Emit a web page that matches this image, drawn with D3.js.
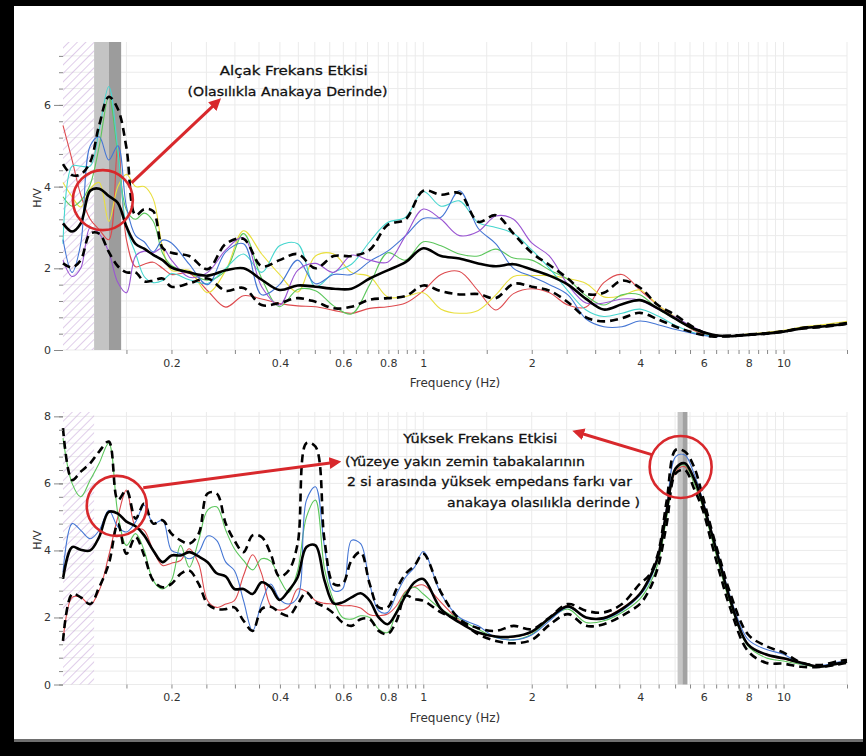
<!DOCTYPE html>
<html>
<head>
<meta charset="utf-8">
<script src="https://d3js.org/d3.v7.min.js"></script>
<style>
  body { margin: 0; background: #000; }
  svg { display: block; }
</style>
</head>
<body>
<div id="chart"></div>
<script>
// ---------- data ----------
// frequency grid of the upper panel (Hz)
var freqTop = [0.100, 0.106, 0.112, 0.119, 0.126, 0.134, 0.142, 0.150, 0.159, 0.168, 0.178, 0.189, 0.200,
  0.224, 0.252, 0.283, 0.317, 0.356, 0.399, 0.448, 0.502, 0.564, 0.632, 0.710, 0.796, 0.893, 1.00,
  1.12, 1.26, 1.42, 1.59, 1.78, 2.00, 2.24, 2.52, 2.83, 3.17, 3.56, 3.99, 4.48, 5.02, 5.64, 6.32,
  7.10, 7.96, 8.93, 10.0, 11.2, 12.6, 14.2, 15.0];

var topRed = [5.5, 4.65, 3.8, 3.2, 2.95, 2.7, 5.0, 2.7, 2.04, 2.1, 2.15, 2.0, 1.85,
  1.88, 1.45, 1.05, 1.33, 1.25, 1.14, 1.08, 1.06, 0.97, 0.9, 1.02, 1.06, 1.15, 1.45, 1.85, 1.92, 1.45, 0.98,
  1.38, 1.5, 1.4, 1.1, 1.05, 1.65, 1.85, 1.47, 1.1, 0.78, 0.48, 0.35, 0.34, 0.37, 0.4, 0.45, 0.53, 0.57, 0.62, 0.65];
var topYellow = [4.1, 3.75, 3.5, 3.95, 4.1, 3.15, 4.0, 4.3, 4.0, 4.0, 3.7, 2.5, 1.95,
  1.95, 1.4, 1.95, 2.92, 2.35, 1.85, 1.42, 2.3, 2.35, 1.9, 1.8, 1.3, 1.31, 1.4, 1.0, 0.9, 0.97, 1.35,
  1.8, 1.82, 1.82, 1.75, 1.63, 1.3, 1.33, 1.47, 1.1, 0.8, 0.5, 0.37, 0.35, 0.39, 0.43, 0.48, 0.56, 0.61, 0.67, 0.7];
var topGreen = [3.75, 3.52, 3.65, 4.05, 4.98, 6.2, 4.8, 3.43, 3.2, 3.35, 3.15, 2.37, 2.07,
  1.9, 1.71, 1.95, 2.85, 1.75, 1.06, 1.48, 1.45, 1.08, 0.88, 1.6, 2.38, 2.2, 2.65, 2.55, 2.35, 2.3, 2.47,
  2.25, 2.2, 1.96, 1.73, 1.33, 1.1, 1.35, 1.35, 1.0, 0.75, 0.5, 0.36, 0.34, 0.37, 0.4, 0.45, 0.53, 0.57, 0.62, 0.65];
var topCyan = [2.6, 4.5, 4.5, 4.5, 5.39, 6.45, 4.9, 3.0, 2.37, 1.8, 1.65, 1.7, 1.87,
  1.72, 1.63, 2.0, 2.35, 1.9, 2.55, 2.6, 1.55, 1.9, 2.1, 2.65, 3.12, 3.25, 3.88, 3.52, 3.65, 3.12, 3.0,
  2.85, 2.45, 2.0, 1.45, 0.98, 0.82, 0.9, 1.0, 0.83, 0.6, 0.42, 0.34, 0.34, 0.37, 0.4, 0.45, 0.53, 0.57, 0.62, 0.65];
var topBlue = [2.7, 1.9, 2.6, 5.0, 5.22, 4.65, 5.0, 3.51, 2.8, 2.65, 2.4, 2.69, 2.62,
  2.1, 1.6, 2.4, 2.6, 1.35, 1.6, 2.2, 1.62, 1.85, 1.85, 2.17, 2.42, 2.8, 3.22, 3.25, 3.9, 2.98, 2.6,
  2.0, 1.8, 1.6, 1.35, 0.76, 0.57, 0.57, 0.71, 0.62, 0.5, 0.4, 0.33, 0.34, 0.37, 0.4, 0.45, 0.53, 0.57, 0.62, 0.65];
var topPurple = [2.2, 1.8, 2.0, 3.0, 2.85, 2.4, 1.65, 1.4, 2.3, 2.42, 2.38, 2.5, 2.2,
  1.78, 1.9, 2.45, 2.75, 1.55, 1.1, 1.95, 2.12, 1.9, 2.32, 2.2, 2.15, 2.8, 3.45, 3.2, 2.8, 2.9, 3.28,
  3.2, 2.62, 2.3, 1.6, 1.15, 1.15, 1.25, 1.22, 1.0, 0.8, 0.55, 0.38, 0.34, 0.37, 0.4, 0.45, 0.53, 0.57, 0.62, 0.65];
var topMean = [3.1, 2.9, 3.1, 3.9, 3.95, 3.77, 3.6, 3.02, 2.6, 2.48, 2.33, 2.2, 2.02,
  1.9, 1.82, 1.95, 2.0, 1.72, 1.47, 1.58, 1.55, 1.5, 1.5, 1.75, 1.95, 2.15, 2.49, 2.3, 2.24, 2.12, 2.05,
  2.1, 1.97, 1.82, 1.6, 1.25, 0.99, 1.12, 1.22, 1.02, 0.76, 0.52, 0.38, 0.34, 0.37, 0.4, 0.45, 0.53, 0.57, 0.62, 0.65];
var topUpper = [4.55, 4.28, 4.3, 4.6, 5.5, 6.2, 5.9, 4.95, 3.3, 3.45, 3.4, 2.5, 2.38,
  2.3, 1.98, 2.6, 2.72, 2.05, 2.2, 2.35, 2.0, 2.3, 2.3, 2.45, 3.06, 3.2, 3.9, 3.8, 3.84, 3.14, 3.3,
  2.85, 2.38, 2.08, 1.75, 1.38, 1.4, 1.7, 1.53, 1.1, 0.85, 0.55, 0.36, 0.35, 0.38, 0.41, 0.46, 0.54, 0.58, 0.63, 0.66];
var topLower = [2.12, 2.02, 2.2, 2.85, 2.85, 2.4, 2.05, 1.9, 1.9, 1.68, 1.7, 1.75, 1.55,
  1.63, 1.75, 1.45, 1.52, 1.1, 1.15, 1.27, 1.18, 1.02, 1.06, 1.23, 1.27, 1.32, 1.58, 1.44, 1.36, 1.37, 1.27,
  1.62, 1.55, 1.45, 1.17, 0.8, 0.7, 0.78, 0.91, 0.75, 0.57, 0.42, 0.33, 0.34, 0.37, 0.4, 0.45, 0.52, 0.56, 0.61, 0.64];

// frequency grid of the lower panel (Hz)
var freqBottom = [0.100, 0.106, 0.112, 0.119, 0.126, 0.134, 0.142, 0.150, 0.159, 0.168, 0.178, 0.189,
  0.200, 0.212, 0.224, 0.238, 0.252, 0.267, 0.283, 0.299, 0.317, 0.336, 0.356, 0.377, 0.399,
  0.423, 0.448, 0.474, 0.502, 0.532, 0.564, 0.597, 0.632, 0.670, 0.710, 0.752, 0.796, 0.843, 0.893, 0.946, 1.00,
  1.12, 1.26, 1.42, 1.59, 1.78, 2.00, 2.24, 2.52, 2.83, 3.17, 3.56, 3.99,
  4.23, 4.48, 4.74, 5.02, 5.32, 5.64, 5.97, 6.32, 6.70, 7.10,
  7.96, 8.93, 10.0, 11.2, 12.6, 14.2, 15.0];

var botRed = [1.3, 2.6, 2.6, 2.38, 2.8, 3.85, 5.0, 5.8, 4.7, 4.6, 4.0, 3.55, 3.62, 3.7, 4.05, 3.6, 2.5, 2.3, 2.4, 2.5,
  3.25, 3.87, 3.3, 2.35, 2.22, 2.32, 2.85, 2.77, 2.5, 2.42, 2.4, 2.35, 2.35, 2.28, 2.08, 2.05, 2.1, 2.35, 2.78, 2.92, 2.97,
  2.45, 1.9, 1.55, 1.42, 1.42, 1.55, 2.0, 2.35, 2.0, 2.0, 2.28, 2.72,
  3.15, 3.75, 5.1, 6.35, 6.5, 6.1, 5.35, 4.45, 3.45, 2.5,
  1.2, 0.88, 0.76, 0.64, 0.53, 0.63, 0.68];
var botGreen = [7.35, 6.0, 5.6, 6.1, 6.6, 7.2, 5.1, 4.15, 4.5, 4.0, 3.1, 2.85, 3.1, 4.15, 3.5, 4.3, 5.2, 5.3, 4.6, 4.05,
  3.7, 3.42, 3.75, 3.68, 3.15, 2.75, 3.4, 5.0, 5.5, 3.45, 2.5, 2.0, 1.95, 2.05, 2.0, 1.65, 1.55, 2.2, 2.75, 2.9, 2.7,
  2.25, 1.95, 1.65, 1.4, 1.33, 1.5, 1.95, 2.25, 1.85, 1.9, 2.15, 2.55,
  2.95, 3.6, 5.0, 6.4, 6.55, 6.0, 5.3, 4.35, 3.35, 2.45,
  1.15, 0.8, 0.7, 0.6, 0.53, 0.62, 0.67];
var botBlue = [3.35, 4.8, 4.6, 4.35, 4.6, 5.2, 4.7, 4.55, 4.85, 5.35, 4.8, 4.9, 4.0, 3.9, 3.75, 3.95, 4.43, 4.3, 3.65, 3.4,
  2.5, 1.6, 2.45, 3.0, 2.55, 2.4, 2.6, 5.5, 5.9, 4.1, 2.8, 2.85, 4.3, 4.2, 3.0, 2.2, 2.15, 2.7, 3.2, 3.5, 3.97,
  2.7, 2.0, 1.75, 1.4, 1.33, 1.48, 1.9, 2.3, 2.0, 1.95, 2.2, 2.65,
  3.05, 3.8, 5.3, 6.8, 6.85, 6.3, 5.5, 4.55, 3.6, 2.65,
  1.35, 1.05, 0.9, 0.62, 0.56, 0.67, 0.71];
var botMean = [3.15, 4.1, 4.02, 4.0, 4.4, 5.15, 5.1, 4.86, 4.72, 4.45, 4.0, 3.65, 3.85, 3.85, 3.95, 3.82, 3.65, 3.32, 3.22, 2.85,
  2.85, 2.7, 3.05, 2.9, 2.52, 2.8, 3.2, 4.1, 4.15, 3.1, 2.42, 2.45, 2.6, 2.72, 2.5, 2.0, 1.8, 2.15, 2.65, 3.05, 3.15,
  2.25, 1.85, 1.55, 1.43, 1.43, 1.58, 1.98, 2.33, 2.0, 1.98, 2.25, 2.7,
  3.15, 3.8, 5.2, 6.45, 6.6, 6.15, 5.4, 4.5, 3.5, 2.55,
  1.2, 0.9, 0.78, 0.65, 0.53, 0.63, 0.68];
var botUpper = [7.65, 6.1, 6.35, 6.6, 6.95, 7.25, 5.5, 5.8, 4.95, 5.4, 4.8, 4.9, 4.5, 4.3, 4.2, 4.5, 5.7, 5.7, 4.8, 4.3,
  3.95, 4.45, 4.4, 3.9, 3.22, 3.4, 4.2, 7.2, 7.1, 4.3, 3.0, 3.0, 3.7, 3.95, 3.0, 2.3, 2.3, 2.85, 3.3, 3.55, 3.9,
  2.75, 1.95, 1.68, 1.6, 1.75, 1.65, 2.0, 2.4, 2.2, 2.15, 2.4, 3.0,
  3.25, 3.9, 5.5, 7.0, 6.95, 6.5, 5.6, 4.6, 3.65, 2.75,
  1.5, 1.15, 0.95, 0.65, 0.58, 0.7, 0.73];
var botLower = [1.3, 2.7, 2.6, 2.4, 2.9, 3.6, 4.8, 3.9, 4.4, 3.85, 3.1, 2.9, 3.0, 3.3, 3.4, 3.0, 2.4, 2.25, 2.25, 2.3,
  1.9, 1.6, 2.25, 2.32, 2.15, 2.05, 2.4, 2.75, 2.45, 2.32, 2.12, 1.85, 1.75, 1.95, 1.95, 1.6, 1.5, 1.9, 2.65, 2.55, 2.5,
  2.15, 1.9, 1.5, 1.3, 1.23, 1.33, 1.78, 2.1, 1.75, 1.8, 2.05, 2.4,
  2.8, 3.5, 4.8, 6.3, 6.4, 5.85, 5.2, 4.2, 3.2, 2.3,
  1.0, 0.65, 0.62, 0.53, 0.52, 0.6, 0.65];

// axis ticks
var xTicks = [0.15, 0.2, 0.25, 0.3, 0.35, 0.4, 0.45, 0.5, 0.55, 0.6, 0.65, 0.7, 0.75, 0.8, 0.85, 0.9, 0.95, 1,
  1.5, 2, 2.5, 3, 3.5, 4, 4.5, 5, 5.5, 6, 6.5, 7, 7.5, 8, 8.5, 9, 9.5, 10, 15];
var xLabels = [0.2, 0.4, 0.6, 0.8, 1, 2, 4, 6, 8, 10];
var yMinorTop = [0, 0.4, 0.8, 1.2, 1.6, 2, 2.4, 2.8, 3.2, 3.6, 4, 4.4, 4.8, 5.2, 5.6, 6, 6.4, 6.8, 7.2];
var yMajorTop = [0, 2, 4, 6];
var yMinorBottom = [0, 0.4, 0.8, 1.2, 1.6, 2, 2.4, 2.8, 3.2, 3.6, 4, 4.4, 4.8, 5.2, 5.6, 6, 6.4, 6.8, 7.2, 7.6, 8];
var yMajorBottom = [0, 2, 4, 6, 8];

// low-frequency hatched zone and peak frequency bands
var hatchRange = [0.1, 0.122];
var bandsTop = [[0.122, 0.134, "#c4c4c4"], [0.134, 0.145, "#9c9c9c"]];
var bandsBottom = [[5.08, 5.24, "#c6c6c6"], [5.24, 5.41, "#a2a2a2"]];

// ---------- layout ----------
var svgWidth = 866;
var svgHeight = 756;
var plotLeft = 63;
var plotRight = 847;
var red = "#d8282c";
var textFont = "'Comic Sans MS', 'DejaVu Sans', sans-serif";
var axisFont = "'DejaVu Sans', Verdana, sans-serif";

var svg = d3.select("#chart")
  .append("svg")
  .attr("width", svgWidth)
  .attr("height", svgHeight);

var defs = svg.append("defs");

var hatch = defs.append("pattern")
  .attr("id", "hatch")
  .attr("patternUnits", "userSpaceOnUse")
  .attr("width", 6)
  .attr("height", 6)
  .attr("patternTransform", "rotate(45)");
hatch.append("line")
  .attr("x1", 0).attr("y1", 0).attr("x2", 0).attr("y2", 6)
  .attr("stroke", "#c6a4d8")
  .attr("stroke-width", 1.1);

defs.append("marker")
  .attr("id", "arrowRed")
  .attr("viewBox", "0 0 10 10")
  .attr("refX", 7)
  .attr("refY", 5)
  .attr("markerWidth", 4)
  .attr("markerHeight", 4)
  .attr("orient", "auto")
  .append("path")
  .attr("d", "M0,0 L10,5 L0,10 Z")
  .attr("fill", red);

// black frame around a white sheet
svg.append("rect")
  .attr("width", svgWidth)
  .attr("height", svgHeight)
  .attr("fill", "#000");
svg.append("rect")
  .attr("x", 14).attr("y", 6)
  .attr("width", 849).attr("height", 733)
  .attr("fill", "#fff");
svg.append("rect")
  .attr("x", 14).attr("y", 739)
  .attr("width", 849).attr("height", 3)
  .attr("fill", "#6e6e6e");

// draws one H/V panel and returns its scales
function drawPanel(p) {
  var x = d3.scaleLog().domain([0.1, 15]).range([plotLeft, plotRight]);
  var y = d3.scaleLinear().domain([0, p.yMax]).range([p.yZero, p.yTop]);
  var g = svg.append("g");

  // grid
  g.append("g").selectAll("line")
    .data(xTicks)
    .join("line")
    .attr("x1", d => x(d)).attr("x2", d => x(d))
    .attr("y1", y(p.yMax)).attr("y2", y(0))
    .attr("stroke", "#ebebeb");
  g.append("g").selectAll("line")
    .data(p.yMinor)
    .join("line")
    .attr("x1", x(0.1)).attr("x2", x(15))
    .attr("y1", d => y(d)).attr("y2", d => y(d))
    .attr("stroke", "#ebebeb");

  // hatched zone
  g.append("rect")
    .attr("x", x(hatchRange[0]))
    .attr("width", x(hatchRange[1]) - x(hatchRange[0]))
    .attr("y", y(p.yMax))
    .attr("height", y(0) - y(p.yMax))
    .attr("fill", "url(#hatch)");

  // f0 bands
  g.append("g").selectAll("rect")
    .data(p.bands)
    .join("rect")
    .attr("x", d => x(d[0]))
    .attr("width", d => x(d[1]) - x(d[0]))
    .attr("y", y(p.yMax))
    .attr("height", y(0) - y(p.yMax))
    .attr("fill", d => d[2]);

  // curves
  var line = d3.line()
    .x(d => x(d[0]))
    .y(d => y(d[1]))
    .curve(d3.curveCatmullRom.alpha(0.5));

  p.series.forEach(s => {
    g.append("path")
      .datum(d3.zip(p.freq, s.values))
      .attr("d", line)
      .attr("fill", "none")
      .attr("stroke", s.color)
      .attr("stroke-width", s.width)
      .attr("stroke-dasharray", s.dash || null)
      .attr("stroke-linejoin", "round");
  });

  // x axis
  var xAxis = g.append("g")
    .attr("transform", `translate(0, ${y(0)})`)
    .call(d3.axisBottom(x)
      .tickValues(xTicks)
      .tickSize(4)
      .tickPadding(5)
      .tickFormat(d => xLabels.indexOf(d) >= 0 ? d3.format("~g")(d) : ""));

  // y axis: minor ticks then major ticks with labels
  var yMinorAxis = g.append("g")
    .attr("transform", `translate(${x(0.1)}, 0)`)
    .call(d3.axisLeft(y).tickValues(p.yMinor).tickSize(4).tickFormat(""));
  var yAxis = g.append("g")
    .attr("transform", `translate(${x(0.1)}, 0)`)
    .call(d3.axisLeft(y).tickValues(p.yMajor).tickSize(9).tickPadding(3));

  [xAxis, yMinorAxis, yAxis].forEach(a => {
    a.select(".domain").remove();
    a.selectAll("line").attr("stroke", "#888");
    a.selectAll("text")
      .attr("fill", "#333")
      .style("font-family", axisFont)
      .style("font-size", "11px");
  });

  // axis titles
  g.append("text")
    .attr("transform", `translate(41, ${p.labelY}) rotate(-90)`)
    .attr("text-anchor", "middle")
    .attr("fill", "#333")
    .style("font-family", axisFont)
    .style("font-size", "11px")
    .text("H/V");
  g.append("text")
    .attr("x", 455)
    .attr("y", y(0) + 37)
    .attr("text-anchor", "middle")
    .attr("fill", "#333")
    .style("font-family", axisFont)
    .style("font-size", "12px")
    .text("Frequency (Hz)");

  return { x: x, y: y, g: g };
}

function colored(values, color) {
  return { values: values, color: color, width: 1.1 };
}

var blackMean = 2.6;
var dashStyle = "8,5";

var topPanel = drawPanel({
  yZero: 350, yTop: 42, yMax: 7.54,
  yMinor: yMinorTop, yMajor: yMajorTop,
  freq: freqTop, bands: bandsTop, labelY: 198,
  series: [
    colored(topRed, "#dd4a4e"),
    colored(topYellow, "#e9df3e"),
    colored(topGreen, "#5cc65c"),
    colored(topCyan, "#47d6cf"),
    colored(topBlue, "#4576d4"),
    colored(topPurple, "#9a55d2"),
    { values: topLower, color: "#000", width: blackMean, dash: dashStyle },
    { values: topUpper, color: "#000", width: blackMean, dash: dashStyle },
    { values: topMean, color: "#000", width: blackMean }
  ]
});

var bottomPanel = drawPanel({
  yZero: 684.5, yTop: 412, yMax: 8.13,
  yMinor: yMinorBottom, yMajor: yMajorBottom,
  freq: freqBottom, bands: bandsBottom, labelY: 540,
  series: [
    colored(botRed, "#dd4a4e"),
    colored(botGreen, "#5cc65c"),
    colored(botBlue, "#4576d4"),
    { values: botLower, color: "#000", width: blackMean, dash: dashStyle },
    { values: botUpper, color: "#000", width: blackMean, dash: dashStyle },
    { values: botMean, color: "#000", width: blackMean }
  ]
});

// ---------- annotations (positions in Hz / H/V) ----------
function annotate(panel, circles, arrows, labels) {
  var x = panel.x, y = panel.y, g = panel.g;

  g.selectAll(".ring")
    .data(circles)
    .join("circle")
    .attr("cx", d => x(d[0]))
    .attr("cy", d => y(d[1]))
    .attr("r", d => d[2])
    .attr("fill", "none")
    .attr("stroke", red)
    .attr("stroke-width", 2.6);

  g.selectAll(".arrow")
    .data(arrows)
    .join("line")
    .attr("x1", d => x(d[0])).attr("y1", d => y(d[1]))
    .attr("x2", d => x(d[2])).attr("y2", d => y(d[3]))
    .attr("stroke", red)
    .attr("stroke-width", 3)
    .attr("marker-end", "url(#arrowRed)");

  g.selectAll(".note")
    .data(labels)
    .join("text")
    .attr("x", d => x(d.f))
    .attr("y", d => y(d.v))
    .attr("text-anchor", d => d.anchor)
    .attr("textLength", d => d.len)
    .attr("lengthAdjust", "spacingAndGlyphs")
    .attr("fill", "#111")
    .attr("stroke", "#111")
    .attr("stroke-width", 0.3)
    .style("font-family", textFont)
    .style("font-size", "13px")
    .text(d => d.text);
}

annotate(topPanel,
  [[0.129, 3.67, 30]],
  [[0.155, 4.09, 0.270, 6.10]],
  [
    { f: 0.437, v: 6.73, anchor: "middle", len: 148, text: "Alçak Frekans Etkisi" },
    { f: 0.420, v: 6.22, anchor: "middle", len: 200, text: "(Olasılıkla Anakaya Derinde)" }
  ]);

annotate(bottomPanel,
  [[0.141, 5.33, 30], [5.18, 6.49, 31]],
  [[0.167, 5.87, 0.579, 6.64], [4.33, 6.85, 2.65, 7.54]],
  [
    { f: 1.44, v: 7.21, anchor: "middle", len: 154, text: "Yüksek Frekans Etkisi" },
    { f: 0.606, v: 6.52, anchor: "start", len: 240, text: "(Yüzeye yakın zemin tabakalarının" },
    { f: 0.614, v: 5.93, anchor: "start", len: 285, text: "2 si arasında yüksek empedans farkı var" },
    { f: 1.164, v: 5.30, anchor: "start", len: 193, text: "anakaya olasılıkla derinde )" }
  ]);
</script>
</body>
</html>
